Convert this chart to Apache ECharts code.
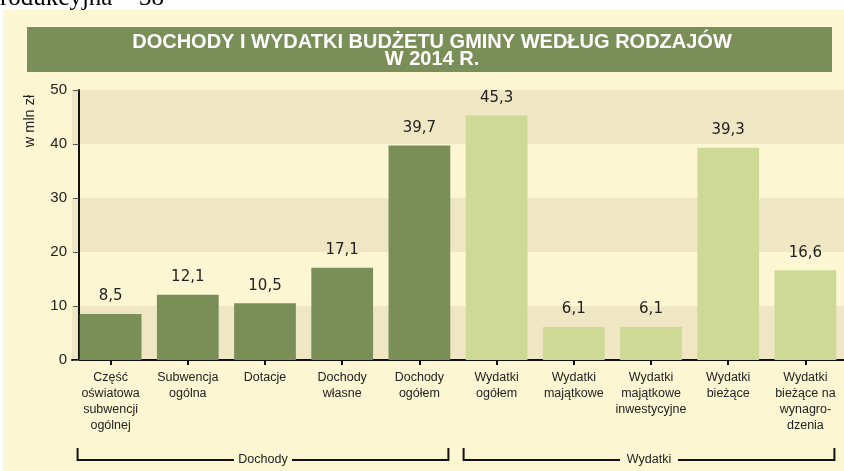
<!DOCTYPE html>
<html>
<head>
<meta charset="utf-8">
<script src="https://cdn.jsdelivr.net/npm/echarts@6/dist/echarts.min.js"></script>
<style>
html,body{margin:0;padding:0;background:#ffffff;}
#c{width:844px;height:471px;}
</style>
</head>
<body>
<div id="c"></div>
<script>
var categories = ['Część\noświatowa\nsubwencji\nogólnej', 'Subwencja\nogólna', 'Dotacje', 'Dochody\nwłasne', 'Dochody\nogółem', 'Wydatki\nogółem', 'Wydatki\nmajątkowe', 'Wydatki\nmajątkowe\ninwestycyjne', 'Wydatki\nbieżące', 'Wydatki\nbieżące na\nwynagro-\ndzenia'];
var values = [8.5, 12.1, 10.5, 17.1, 39.7, 45.3, 6.1, 6.1, 39.3, 16.6];
var groups = ['Dochody', 'Dochody', 'Dochody', 'Dochody', 'Dochody', 'Wydatki', 'Wydatki', 'Wydatki', 'Wydatki', 'Wydatki'];
var groupNames = ['Dochody', 'Wydatki'];
var yTicks = [0, 10, 20, 30, 40, 50];
var titleLines = ['DOCHODY I WYDATKI BUDŻETU GMINY WEDŁUG RODZAJÓW', 'W 2014 R.'];
var yName = 'w mln zł';
var topText = 'rodukcyjna = 38';

var groupColors = { 'Dochody': '#7a8f57', 'Wydatki': '#cdd995' };

var chart = echarts.init(document.getElementById('c'), null, { renderer: 'canvas' });

var option = {
  backgroundColor: '#ffffff',
  animation: false,
  grid: { left: 72, top: 90, width: 778, height: 270, containLabel: false },
  xAxis: {
    type: 'category',
    data: categories,
    axisLine: { show: true, lineStyle: { color: '#111', width: 2 } },
    axisTick: { show: true, alignWithLabel: true, length: 5, lineStyle: { color: '#111', width: 2 } },
    axisLabel: {
      interval: 0, margin: 10,
      fontFamily: 'Liberation Sans, Arial, sans-serif', fontSize: 12.5, lineHeight: 16,
      color: '#222', align: 'center'
    },
    splitLine: { show: false }
  },
  yAxis: {
    type: 'value', min: yTicks[0], max: yTicks[yTicks.length - 1], interval: 10,
    offset: -7,
    axisLine: { show: true, lineStyle: { color: '#111', width: 2 } },
    axisTick: { show: true, length: 6, lineStyle: { color: '#555', width: 1 } },
    axisLabel: { fontFamily: 'Liberation Sans, Arial, sans-serif', fontSize: 15, color: '#222', margin: 12 },
    splitLine: { show: false },
    splitArea: { show: true, areaStyle: { color: ['#efe6c3', '#fdf6d2'] } }
  },
  series: [{
    type: 'bar',
    data: values.map(function (v, i) { return { value: v, itemStyle: { color: groupColors[groups[i]] } }; }),
    barCategoryGap: '20%',
    label: {
      show: true, position: 'top', distance: 10,
      fontFamily: 'DejaVu Sans, Verdana, sans-serif', fontSize: 15, color: '#222',
      formatter: function (p) { return String(p.value).replace('.', ','); }
    }
  }]
};
chart.setOption(option);

function buildGraphics() {
  var els = [];
  els.push({ type: 'rect', z: -10, silent: true, shape: { x: 3, y: 10, width: 841, height: 461 }, style: { fill: '#fdf6d2' } });
  els.push({ type: 'rect', z: -5, silent: true, shape: { x: 27, y: 27, width: 805, height: 45 }, style: { fill: '#7a8f57' } });
  els.push({ type: 'text', z: 5, silent: true, x: 432, y: 51, style: {
    text: titleLines.join('\n'), fill: '#ffffff', font: 'bold 20px "Liberation Sans", Arial, sans-serif',
    align: 'center', verticalAlign: 'middle', lineHeight: 17.5 } });
  els.push({ type: 'text', z: 5, silent: true, x: 0, y: 11, style: {
    text: topText, fill: '#000', font: '25px "Liberation Serif", "Times New Roman", serif',
    align: 'left', verticalAlign: 'bottom' } });
  groupNames.forEach(function (g) {
    var first = groups.indexOf(g), last = groups.lastIndexOf(g);
    var x0 = chart.convertToPixel({ xAxisIndex: 0 }, first) - 33;
    var x1 = chart.convertToPixel({ xAxisIndex: 0 }, last) + 29;
    var yb = 460, yt = 448;
    var mid = (x0 + x1) / 2;
    var tw = 58;
    var ls = { stroke: '#111', lineWidth: 2 };
    els.push({ type: 'polyline', silent: true, shape: { points: [[x0, yt], [x0, yb], [mid - tw / 2, yb]] }, style: ls });
    els.push({ type: 'polyline', silent: true, shape: { points: [[mid + tw / 2, yb], [x1, yb], [x1, yt]] }, style: ls });
    els.push({ type: 'text', silent: true, x: mid, y: yb, style: { text: g, fill: '#222',
      font: '12.5px "Liberation Sans", Arial, sans-serif', align: 'center', verticalAlign: 'middle' } });
  });
  els.push({ type: 'text', silent: true, x: 30, y: 121, rotation: Math.PI / 2, style: { text: yName, fill: '#222',
    font: '14.5px "Liberation Sans", Arial, sans-serif', align: 'center', verticalAlign: 'middle' } });
  return els;
}
chart.setOption({ graphic: { elements: buildGraphics() } });
</script>
</body>
</html>
